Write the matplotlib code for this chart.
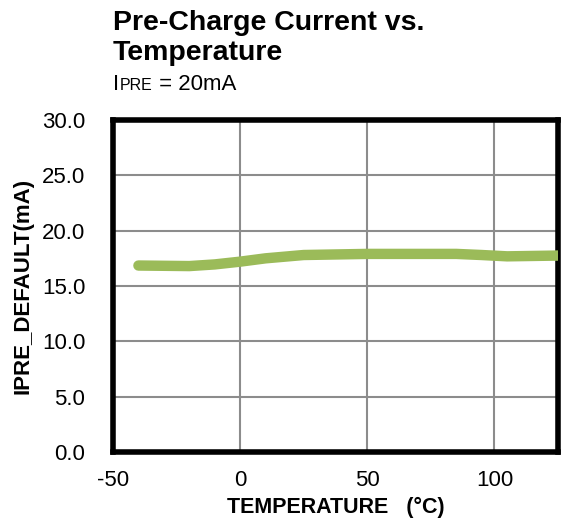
import matplotlib
matplotlib.use("Agg")
import matplotlib.pyplot as plt

plt.rcParams["font.family"] = ["Liberation Sans", "DejaVu Sans"]
plt.rcParams["axes.unicode_minus"] = False

# data
temperature = [-40, -20, -10, 0, 10, 25, 50, 85, 95, 105, 125]
ipre_ma = [16.85, 16.8, 16.95, 17.2, 17.5, 17.8, 17.9, 17.9, 17.8, 17.68, 17.75]

x_ticks = [-50, 0, 50, 100]
y_ticks = [0, 5, 10, 15, 20, 25, 30]

fig = plt.figure(figsize=(5.69, 5.2), dpi=100)
ax = fig.add_axes([113 / 569, 68 / 520, 445 / 569, 332 / 520])

ax.plot(temperature, ipre_ma, color="#9BBB59", lw=7.5, solid_capstyle="round",
        solid_joinstyle="round", zorder=3)

ax.set_xlim(-50, 125)
ax.set_ylim(0, 30)
ax.set_xticks(x_ticks)
ax.set_yticks(y_ticks)
ax.set_yticklabels([f"{v:.1f}" for v in y_ticks])
ax.tick_params(length=0, labelsize=16)
ax.tick_params(axis="y", pad=20)
ax.tick_params(axis="x", pad=13)
ax.grid(True, color="#8c8c8c", lw=1.5)
ax.set_axisbelow(True)
for s in ax.spines.values():
    s.set_linewidth(4)
    s.set_color("black")

ax.set_xlabel("TEMPERATURE   (°C)", fontsize=15.5, fontweight="bold", labelpad=4)
ax.set_ylabel("IPRE_DEFAULT(mA)", fontsize=16, fontweight="bold", labelpad=6)

fig.text(113 / 569, 1 - 23 / 520, "Pre-Charge Current vs.", fontsize=20.5,
         fontweight="bold", va="center", ha="left")
fig.text(113 / 569, 1 - 53 / 520, "Temperature", fontsize=20.5,
         fontweight="bold", va="center", ha="left")

# subtitle: I + small "PRE" on the same baseline + " = 20mA"
base_y = 1 - 90 / 520
renderer = fig.canvas.get_renderer()
t1 = fig.text(113 / 569, base_y, "I", fontsize=16, va="baseline", ha="left")
x = t1.get_window_extent(renderer).x1 / fig.bbox.width
t2 = fig.text(x + 1 / 569, base_y, "PRE", fontsize=11.5, va="baseline", ha="left")
x = t2.get_window_extent(renderer).x1 / fig.bbox.width
fig.text(x, base_y, " = 20mA", fontsize=16, va="baseline", ha="left")

fig.savefig("out.png", dpi=100)
